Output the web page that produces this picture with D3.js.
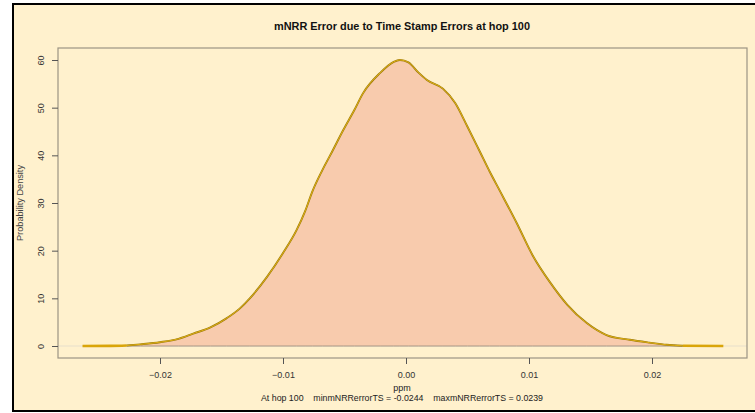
<!DOCTYPE html>
<html>
<head>
<meta charset="utf-8">
<script src="https://cdn.jsdelivr.net/npm/d3@7"></script>
<style>
  html, body { margin: 0; padding: 0; background: #ffffff; }
  svg { display: block; }
  text { font-family: "Liberation Sans", Arial, sans-serif; white-space: pre; }
</style>
</head>
<body>
<svg id="chart" width="755" height="413"></svg>
<script>
// Kernel density estimate of mNRR error (ppm) at hop 100
const ppm = [
  -0.0263, -0.0240, -0.0227, -0.0216, -0.0200, -0.0185, -0.0173, -0.0159,
  -0.0146, -0.0135, -0.0127, -0.0113, -0.0100, -0.0089, -0.0082, -0.0076,
  -0.0068, -0.0060, -0.0051, -0.0042, -0.0035, -0.0021, -0.0010, -0.0005,
   0.0002,  0.0010,  0.0017,  0.0030,  0.0040,  0.0050,  0.0060,  0.0068,
   0.0076,  0.0090,  0.0103,  0.0117,  0.0131,  0.0147,  0.0163,  0.0182,
   0.0198,  0.0212,  0.0225,  0.0258
];
const density = [
   0.0,  0.02, 0.1,  0.35, 0.8,  1.5,  2.6,  3.9,
   5.8,  7.9, 10.0, 14.5, 19.5, 24.3, 28.3, 32.5,
  36.9, 40.8, 45.3, 49.5, 53.0, 57.3, 59.6, 60.0,
  59.5, 57.4, 55.8, 54.0, 51.0, 46.0, 40.8, 36.6,
  32.7, 25.8, 19.0, 13.4,  8.7,  4.8,  2.3,  1.3,
   0.7,  0.25, 0.05, 0.0
];
const xTicks = [-0.02, -0.01, 0.00, 0.01, 0.02];
const yTicks = [0, 10, 20, 30, 40, 50, 60];

const titleText = "mNRR Error due to Time Stamp Errors at hop 100";
const xLabel = "ppm";
const yLabel = "Probability Density";
const subText = "At hop 100    minmNRRerrorTS = -0.0244    maxmNRRerrorTS = 0.0239";

const pts = ppm.map((x, i) => ({ x, y: density[i] }));

const svg = d3.select("#chart");
const box = { left: 58, right: 747, top: 48, bottom: 358 };

// page background and frame
svg.append("rect").attr("x", 13).attr("y", 4).attr("width", 760).attr("height", 407)
  .attr("fill", "#fff1cd").attr("stroke", "#000").attr("stroke-width", 2);

const x = d3.scaleLinear().domain([0, 0.01]).range([406, 529]);
const y = d3.scaleLinear().domain([0, 60]).range([346, 60]);

// zero reference line
svg.append("line")
  .attr("x1", box.left).attr("x2", box.right)
  .attr("y1", y(0)).attr("y2", y(0))
  .attr("stroke", "#e8e0cc").attr("stroke-width", 1.2);

const curve = d3.curveMonotoneX;
const loCut = -0.0228, hiCut = 0.0226;

// filled region under the density
const inner = pts.filter(p => p.x >= loCut && p.x <= hiCut);
const area = d3.area().x(d => x(d.x)).y0(y(0)).y1(d => y(d.y)).curve(curve);
svg.append("path").datum(inner).attr("d", area)
  .attr("fill", "#f8cbad").attr("stroke", "#a89684").attr("stroke-width", 1);

// density line: heavier tails, finer outline along the body
const line = d3.line().x(d => x(d.x)).y(d => y(d.y)).curve(curve);
const leftTail = pts.filter(p => p.x <= loCut + 0.0002);
const rightTail = pts.filter(p => p.x >= hiCut - 0.0002);
[leftTail, rightTail].forEach(seg => {
  svg.append("path").datum(seg).attr("d", line)
    .attr("fill", "none").attr("stroke", "#d9a50a").attr("stroke-width", 2.6);
});
svg.append("path").datum(inner).attr("d", line)
  .attr("fill", "none").attr("stroke", "#9c7a0c").attr("stroke-width", 1.9)
  .attr("stroke-linejoin", "round");
svg.append("path").datum(inner).attr("d", line)
  .attr("fill", "none").attr("stroke", "#efbd16").attr("stroke-width", 0.8);

// plot box
svg.append("rect")
  .attr("x", box.left).attr("y", box.top)
  .attr("width", box.right - box.left).attr("height", box.bottom - box.top)
  .attr("fill", "none").attr("stroke", "#9c9484").attr("stroke-width", 1.2);

// x axis
const xAxis = d3.axisBottom(x).tickValues(xTicks).tickSize(6).tickFormat(d3.format(".2f"));
const gx = svg.append("g").attr("transform", `translate(0,${box.bottom})`).call(xAxis);
gx.select(".domain").remove();
gx.selectAll(".tick line").attr("stroke", "#555");
gx.selectAll(".tick text").attr("fill", "#333").attr("font-size", 9)
  .attr("font-family", "Liberation Sans, Arial, sans-serif").attr("dy", 0).attr("y", 20);

// y axis with rotated labels
const yAxis = d3.axisLeft(y).tickValues(yTicks).tickSize(6);
const gy = svg.append("g").attr("transform", `translate(${box.left},0)`).call(yAxis);
gy.select(".domain").remove();
gy.selectAll(".tick line").attr("stroke", "#555");
gy.selectAll(".tick text").attr("fill", "#333").attr("font-size", 9)
  .attr("font-family", "Liberation Sans, Arial, sans-serif")
  .attr("x", null).attr("dy", null)
  .attr("text-anchor", "middle")
  .attr("transform", "translate(-14,0) rotate(-90)");

// titles
svg.append("text").attr("x", 402).attr("y", 30).attr("text-anchor", "middle")
  .attr("font-size", 10.5).attr("font-weight", "bold").attr("fill", "#111")
  .attr("textLength", 256).attr("lengthAdjust", "spacingAndGlyphs")
  .text(titleText);

svg.append("text").attr("x", 402).attr("y", 391).attr("text-anchor", "middle")
  .attr("font-size", 9).attr("fill", "#222").text(xLabel);

svg.append("text").attr("x", 402).attr("y", 401).attr("text-anchor", "middle")
  .attr("font-size", 9).attr("fill", "#222")
  .attr("textLength", 282).attr("lengthAdjust", "spacingAndGlyphs")
  .text(subText);

svg.append("text")
  .attr("transform", "translate(23,203) rotate(-90)")
  .attr("text-anchor", "middle").attr("font-size", 9).attr("fill", "#444")
  .attr("textLength", 76).attr("lengthAdjust", "spacingAndGlyphs")
  .text(yLabel);
</script>
</body>
</html>
